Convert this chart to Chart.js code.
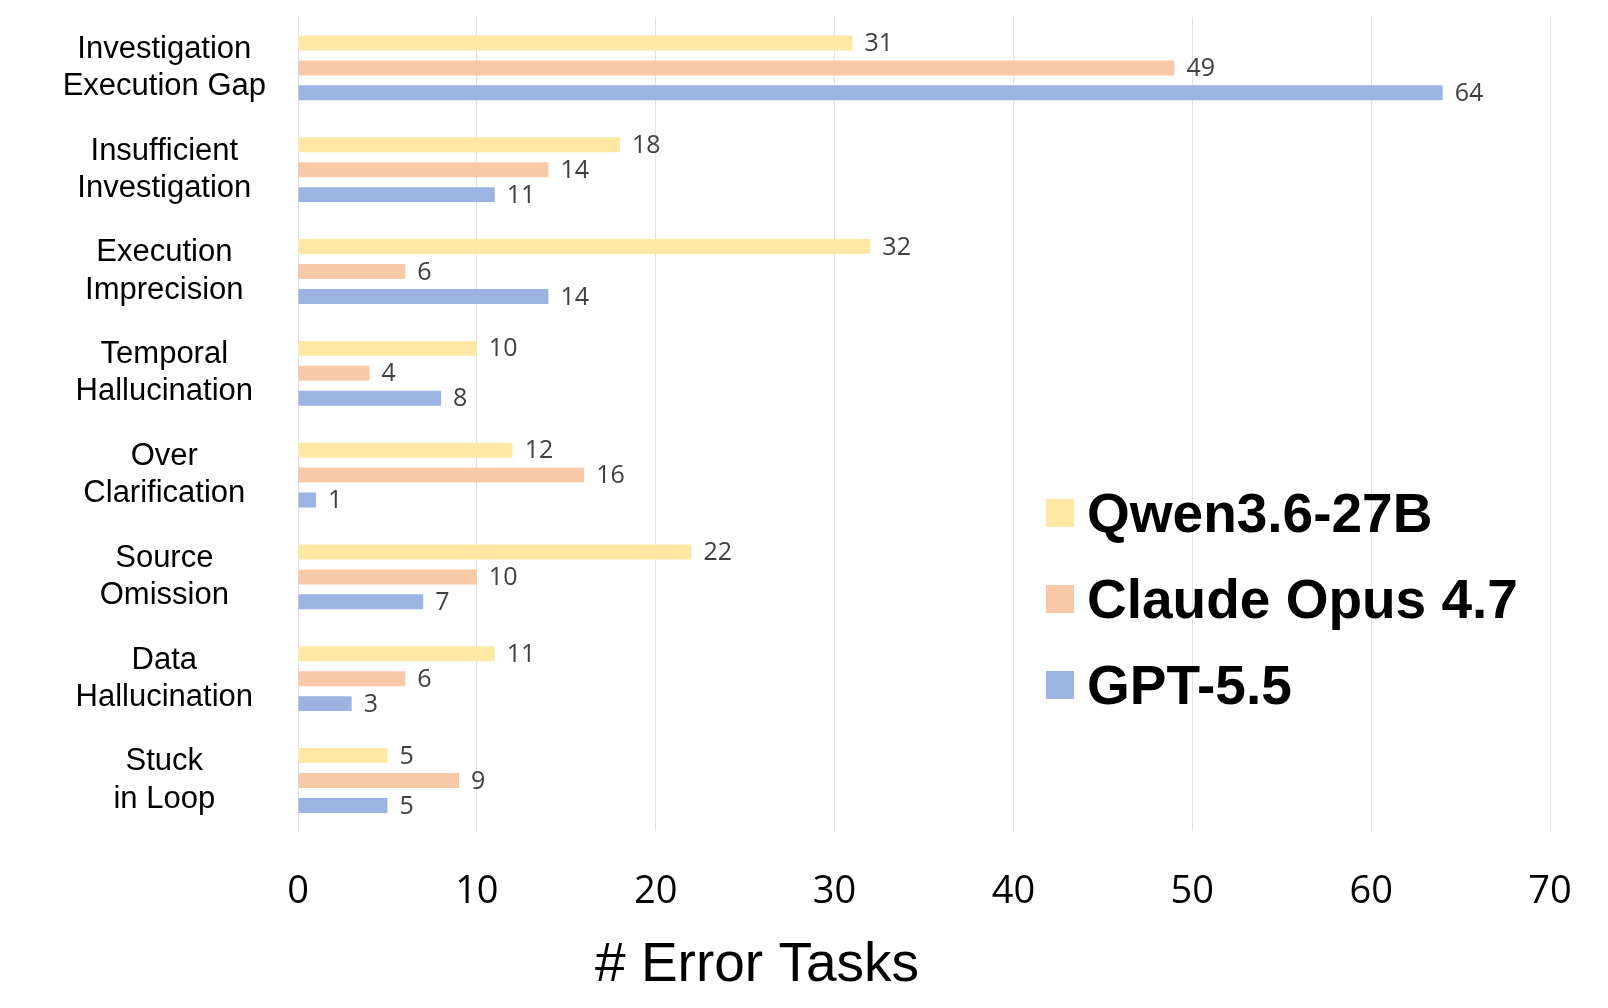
<!DOCTYPE html>
<html>
<head>
<meta charset="utf-8">
<script src="https://cdn.jsdelivr.net/npm/chart.js@4.4.1/dist/chart.umd.min.js"></script>
<style>
  html, body { margin: 0; padding: 0; background: #fff; }
</style>
</head>
<body>
<canvas id="chart" width="1608" height="1008"></canvas>
<script>
const categories = [
  ['Investigation', 'Execution Gap'],
  ['Insufficient', 'Investigation'],
  ['Execution', 'Imprecision'],
  ['Temporal', 'Hallucination'],
  ['Over', 'Clarification'],
  ['Source', 'Omission'],
  ['Data', 'Hallucination'],
  ['Stuck', 'in Loop']
];
const seriesNames = ['Qwen3.6-27B', 'Claude Opus 4.7', 'GPT-5.5'];
const qwenValues = [31, 18, 32, 10, 12, 22, 11, 5];
const claudeValues = [49, 14, 6, 4, 16, 10, 6, 9];
const gptValues = [64, 11, 14, 8, 1, 7, 3, 5];
const xTicks = [0, 10, 20, 30, 40, 50, 60, 70];
const axisTitle = '# Error Tasks';

const colors = ['#FFE8A3', '#F8C9A6', '#9CB4E2'];

// value labels at the end of each bar
const valueLabels = {
  id: 'valueLabels',
  afterDatasetsDraw(chart) {
    const ctx = chart.ctx;
    ctx.save();
    ctx.font = '25px "Open Sans"';
    ctx.fillStyle = '#404040';
    ctx.textAlign = 'left';
    ctx.textBaseline = 'middle';
    chart.data.datasets.forEach((ds, i) => {
      chart.getDatasetMeta(i).data.forEach((bar, j) => {
        ctx.fillText(ds.data[j], bar.x + 12, bar.y + 1);
      });
    });
    ctx.restore();
  }
};

// legend drawn inside the plot, bottom right
const boxLegend = {
  id: 'boxLegend',
  afterDraw(chart) {
    const ctx = chart.ctx;
    const area = chart.chartArea;
    ctx.save();
    ctx.font = 'bold 55px "Liberation Sans", Arial, sans-serif';
    ctx.textAlign = 'left';
    ctx.textBaseline = 'alphabetic';
    chart.data.datasets.forEach((ds, i) => {
      const cy = area.top + 496 + i * 86;
      ctx.fillStyle = ds.backgroundColor;
      ctx.fillRect(area.left + 748, cy - 14, 28, 28);
      ctx.fillStyle = '#000';
      ctx.fillText(ds.label, area.left + 789, cy + 19);
    });
    ctx.restore();
  }
};

// x axis title, placed left of centre as in the original
const xTitle = {
  id: 'xTitle',
  afterDraw(chart) {
    const ctx = chart.ctx;
    const area = chart.chartArea;
    ctx.save();
    ctx.font = '55px "Liberation Sans", Arial, sans-serif';
    ctx.fillStyle = '#000';
    ctx.textAlign = 'center';
    ctx.textBaseline = 'alphabetic';
    ctx.fillText(axisTitle, area.left + 459, 981);
    ctx.restore();
  }
};

new Chart(document.getElementById('chart').getContext('2d'), {
  type: 'bar',
  data: {
    labels: categories,
    datasets: [
      { label: seriesNames[0], data: qwenValues, backgroundColor: colors[0] },
      { label: seriesNames[1], data: claudeValues, backgroundColor: colors[1] },
      { label: seriesNames[2], data: gptValues, backgroundColor: colors[2] }
    ]
  },
  options: {
    indexAxis: 'y',
    responsive: false,
    animation: false,
    devicePixelRatio: 1,
    layout: { padding: { top: 17, right: 58, bottom: 55, left: 0 } },
    datasets: {
      bar: { barPercentage: 0.6, categoryPercentage: 0.735 }
    },
    scales: {
      x: {
        min: 0,
        max: 70,
        afterBuildTicks(scale) {
          scale.ticks = xTicks.map(v => ({ value: v }));
        },
        afterFit(scale) {
          scale.paddingLeft = 0;
          scale.paddingRight = 0;
        },
        grid: { color: '#e2e2e2', lineWidth: 1, drawTicks: false },
        border: { display: false },
        ticks: {
          padding: 38,
          color: '#000',
          font: { family: '"Open Sans"', size: 38 }
        }
      },
      y: {
        afterFit(scale) {
          scale.width = 298;
          scale.paddingTop = 0;
          scale.paddingBottom = 0;
        },
        grid: { display: false, drawTicks: false },
        border: { display: false },
        ticks: {
          crossAlign: 'center',
          padding: 32,
          color: '#000',
          font: { family: '"Liberation Sans", Arial, sans-serif', size: 31, lineHeight: 1.2 }
        }
      }
    },
    plugins: {
      legend: { display: false },
      tooltip: { enabled: false }
    }
  },
  plugins: [valueLabels, boxLegend, xTitle]
});
</script>
</body>
</html>
